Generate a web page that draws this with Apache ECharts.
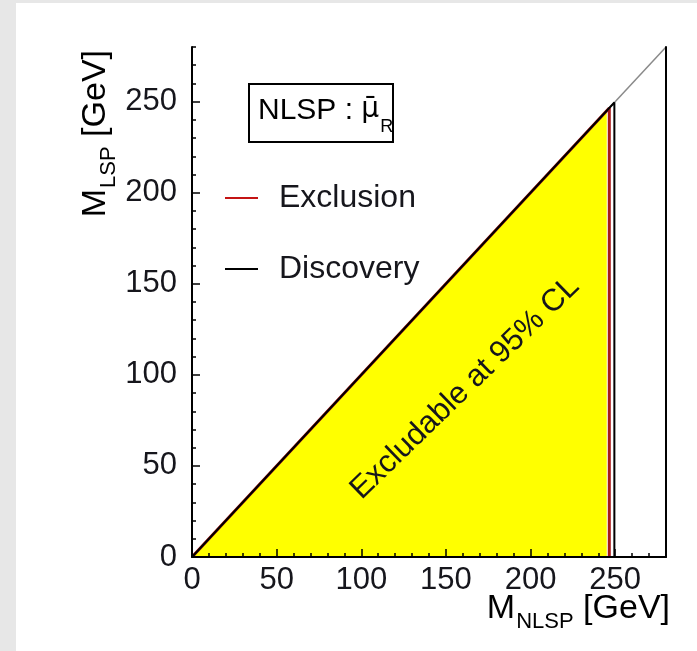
<!DOCTYPE html>
<html>
<head>
<meta charset="utf-8">
<script src="https://cdn.jsdelivr.net/npm/echarts@6/dist/echarts.min.js"></script>
<style>
  html, body { margin: 0; padding: 0; width: 697px; height: 651px; overflow: hidden; background: #e7e7e7; }
  #chart { position: absolute; left: 16px; top: 3px; width: 681px; height: 648px; background: #ffffff; }
</style>
</head>
<body>
<div id="chart"></div>
<script>
// Axis range and tick labels (GeV)
const axisMin = 0;
const axisMax = 280;
const majorStep = 50;
const minorStep = 10;
const tickLabels = [0, 50, 100, 150, 200, 250];

// Kinematic limit M_LSP = M_NLSP
const kinematicLimit = [[0, 0], [280, 280]];
// Region excludable at 95% CL
const excludableRegion = [[0, 0], [245, 245]];
// Exclusion contour
const exclusionContour = [[0, 0], [246.5, 246.5], [246.5, 0]];
// Discovery contour
const discoveryContour = [[0, 0], [249.5, 249.5], [249.5, 0]];

const FONT = '"Liberation Sans", Arial, Helvetica, sans-serif';
const INK = '#16161c';

const chart = echarts.init(document.getElementById('chart'), null, { renderer: 'canvas' });

function valueAxis(extra) {
  return Object.assign({
    type: 'value',
    min: axisMin,
    max: axisMax,
    gridIndex: 0,
    z: 10,
    splitLine: { show: false },
    axisLine: { show: false },
    axisLabel: { show: false },
    axisTick: { show: false }
  }, extra);
}

const labelStyle = { fontFamily: FONT, fontSize: 31, color: INK };

// rich styles for "M" with a subscript, used by both axis titles
const titleRich = {
  m: { fontFamily: FONT, fontSize: 34, color: INK, lineHeight: 34, verticalAlign: 'top' },
  s: { fontFamily: FONT, fontSize: 22, color: INK, lineHeight: 22, padding: [19, 0, 0, 1], verticalAlign: 'top' }
};

const option = {
  animation: false,
  grid: { left: 176, right: 31, top: 44, bottom: 94, containLabel: false },
  xAxis: [
    valueAxis({
      position: 'bottom',
      interval: minorStep,
      axisLine: { show: true, onZero: false, lineStyle: { color: '#000', width: 2 } },
      axisTick: { show: true, inside: true, length: 4, lineStyle: { color: '#000', width: 1.5 } },
      axisLabel: Object.assign({ show: true, margin: 8, customValues: tickLabels }, labelStyle)
    }),
    valueAxis({
      position: 'bottom',
      interval: majorStep,
      axisTick: { show: true, inside: true, length: 8, customValues: tickLabels, lineStyle: { color: '#000', width: 1.5 } }
    })
  ],
  yAxis: [
    valueAxis({
      position: 'left',
      interval: minorStep,
      axisLine: { show: true, onZero: false, lineStyle: { color: '#000', width: 2 } },
      axisTick: { show: true, inside: true, length: 4, lineStyle: { color: '#000', width: 1.5 } },
      axisLabel: Object.assign({ show: true, margin: 15, customValues: tickLabels }, labelStyle)
    }),
    valueAxis({
      position: 'left',
      interval: majorStep,
      axisTick: { show: true, inside: true, length: 8, customValues: tickLabels, lineStyle: { color: '#000', width: 1.5 } }
    }),
    valueAxis({
      position: 'right',
      axisLine: { show: true, onZero: false, lineStyle: { color: '#000', width: 2 } }
    })
  ],
  legend: {
    orient: 'vertical',
    left: 204,
    top: 174,
    itemWidth: 33,
    itemHeight: 2,
    itemGap: 39,
    icon: 'rect',
    data: ['Exclusion', 'Discovery'],
    textStyle: { fontFamily: FONT, fontSize: 32, color: INK, padding: [0, 0, 0, 16] }
  },
  series: [
    {
      name: 'Excludable',
      type: 'line',
      data: excludableRegion,
      symbol: 'none',
      lineStyle: { width: 0 },
      areaStyle: { color: '#ffff00', opacity: 1 },
      z: 1
    },
    {
      name: 'Kinematic limit',
      type: 'line',
      data: kinematicLimit,
      symbol: 'none',
      lineStyle: { color: '#8a8a8a', width: 1.5 },
      z: 2
    },
    {
      name: 'Exclusion',
      type: 'line',
      data: exclusionContour,
      symbol: 'none',
      itemStyle: { color: '#c41414' },
      lineStyle: { color: '#a81818', width: 3 },
      z: 3
    },
    {
      name: 'Discovery',
      type: 'line',
      data: discoveryContour,
      symbol: 'none',
      itemStyle: { color: '#000000' },
      lineStyle: { color: '#000000', width: 2 },
      z: 4
    }
  ],
  graphic: [
    // model label box
    {
      type: 'rect',
      left: 232, top: 80,
      shape: { width: 144, height: 58 },
      style: { fill: '#ffffff', stroke: '#000', lineWidth: 2 },
      z: 20
    },
    {
      type: 'text',
      x: 242, y: 108,
      z: 21,
      style: {
        text: '{m|NLSP : }{g|μ̄}{s|R}',
        verticalAlign: 'middle',
        rich: {
          m: { fontFamily: FONT, fontSize: 30, color: INK, lineHeight: 30, verticalAlign: 'top' },
          g: { fontFamily: '"DejaVu Sans", sans-serif', fontSize: 28, color: INK, lineHeight: 30, verticalAlign: 'top' },
          s: { fontFamily: FONT, fontSize: 18, color: INK, lineHeight: 18, padding: [22, 0, 0, 1], verticalAlign: 'top' }
        }
      }
    },
    // region annotation
    {
      type: 'text',
      x: 449, y: 385,
      rotation: 0.77,
      z: 21,
      style: {
        text: 'Excludable at 95% CL',
        fontFamily: FONT, fontSize: 31, fill: INK,
        align: 'center', verticalAlign: 'middle'
      }
    },
    // x axis title
    {
      type: 'text',
      x: 654, y: 606,
      z: 21,
      style: {
        text: '{m|M}{s|NLSP}{m| [GeV]}',
        align: 'right',
        verticalAlign: 'middle',
        rich: titleRich
      }
    },
    // y axis title
    {
      type: 'text',
      x: 80, y: 47,
      rotation: Math.PI / 2,
      z: 21,
      style: {
        text: '{m|M}{s|LSP}{m| [GeV]}',
        align: 'right',
        verticalAlign: 'middle',
        rich: titleRich
      }
    }
  ]
};

chart.setOption(option);
</script>
</body>
</html>
